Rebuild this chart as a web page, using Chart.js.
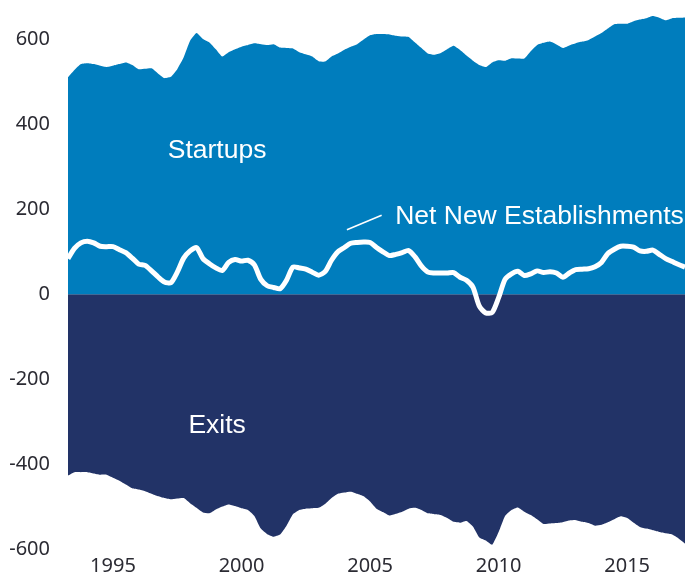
<!DOCTYPE html>
<html>
<head>
<meta charset="utf-8">
<script src="https://cdn.jsdelivr.net/npm/chart.js@4/dist/chart.umd.min.js"></script>
<style>
  html, body { margin: 0; padding: 0; background: #fff; }
  #wrap { width: 685px; height: 583px; }
</style>
</head>
<body>
<div id="wrap"><canvas id="chart" width="685" height="583"></canvas></div>
<script>
// quarterly, 1993 Q2 .. 2017 Q2 (thousands of establishments)
const firstYear = 1993;
const firstQuarter = 2;
const count = 97;

const quarters = [];
for (let i = 0; i < count; i++) {
	const q = firstQuarter - 1 + i;
	quarters.push(`${firstYear + Math.floor(q / 4)} Q${(q % 4) + 1}`);
}

const startups = [
	511, 528, 542, 544, 542, 538, 535, 538, 542, 546,
	540, 530, 531, 532, 520, 509, 512, 530, 558, 597,
	615, 601, 593, 577, 560, 570, 577, 583, 587, 591,
	589, 587, 589, 581, 580, 579, 570, 565, 560, 549,
	548, 560, 567, 576, 583, 589, 600, 610, 613, 613,
	612, 609, 607, 606, 593, 580, 567, 564, 568, 577,
	585, 575, 562, 550, 540, 535, 546, 551, 550, 556,
	555, 555, 572, 587, 592, 595, 588, 580, 586, 591,
	595, 599, 607, 615, 626, 636, 637, 637, 643, 647,
	650, 655, 651, 645, 650, 651, 652,
];

const exits = [
	-427, -419, -419, -419, -422, -425, -425, -432, -439, -448,
	-457, -460, -464, -470, -476, -480, -483, -481, -480, -492,
	-503, -514, -516, -507, -500, -495, -499, -504, -508, -522,
	-552, -565, -571, -566, -545, -518, -508, -505, -504, -503,
	-494, -480, -470, -467, -465, -470, -476, -488, -505, -513,
	-521, -517, -512, -505, -503, -508, -516, -518, -520, -527,
	-536, -538, -534, -547, -573, -580, -590, -560, -522, -508,
	-502, -512, -520, -530, -541, -540, -539, -537, -533, -532,
	-536, -539, -545, -543, -537, -530, -523, -527, -538, -548,
	-552, -556, -560, -563, -566, -575, -587,
];

const netNew = [
	84, 108, 121, 125, 121, 113, 112, 112, 105, 98,
	85, 71, 68, 55, 41, 29, 27, 52, 85, 102,
	110, 84, 72, 62, 56, 75, 82, 78, 80, 69,
	35, 20, 16, 13, 33, 64, 62, 59, 52, 45,
	53, 80, 100, 110, 120, 122, 123, 122, 110, 100,
	91, 94, 98, 103, 88, 66, 52, 50, 50, 50,
	51, 40, 33, 17, -28, -44, -43, -8, 35, 48,
	54, 44, 48, 55, 51, 53, 50, 40, 50, 58,
	59, 60, 65, 75, 96, 106, 113, 113, 111, 102,
	101, 104, 94, 84, 77, 70, 64,
];

const yTicks = [-600, -400, -200, 0, 200, 400, 600];
const xTickYears = ["1995", "2000", "2005", "2010", "2015"];

const blue = "#007dbd";
const navy = "#223367";
const tickFont = { family: "'Noto Sans', sans-serif", size: 20 };
const labelFont = "26.5px 'Liberation Sans', Arial, sans-serif";

// text labels placed in data coordinates (x = quarter index)
const areaLabels = [
	{ text: "Startups", x: 23.2, y: 321, align: "center" },
	{ text: "Exits", x: 23.2, y: -326, align: "center" },
	{ text: "Net New Establishments", x: 50.9, y: 166, align: "left" },
];
const leader = { x1: 43.4, y1: 152, x2: 48.8, y2: 186 };

const labelPlugin = {
	id: "areaLabels",
	afterDatasetsDraw(chart) {
		const { ctx, scales } = chart;
		ctx.save();
		ctx.fillStyle = "#fff";
		ctx.font = labelFont;
		ctx.textBaseline = "alphabetic";
		areaLabels.forEach((l) => {
			ctx.textAlign = l.align;
			ctx.fillText(l.text, scales.x.getPixelForValue(l.x), scales.y.getPixelForValue(l.y));
		});
		ctx.strokeStyle = "#fff";
		ctx.lineWidth = 1.5;
		ctx.beginPath();
		ctx.moveTo(scales.x.getPixelForValue(leader.x1), scales.y.getPixelForValue(leader.y1));
		ctx.lineTo(scales.x.getPixelForValue(leader.x2), scales.y.getPixelForValue(leader.y2));
		ctx.stroke();
		ctx.restore();
	},
};

const data = {
	labels: quarters,
	datasets: [
		{
			label: "Net New Establishments",
			data: netNew,
			borderColor: "#fff",
			borderWidth: 5,
			fill: false,
			tension: 0.25,
			borderJoinStyle: "round",
		},
		{
			label: "Startups",
			data: startups,
			backgroundColor: blue,
			borderColor: blue,
			borderWidth: 0,
			fill: "origin",
			tension: 0.15,
		},
		{
			label: "Exits",
			data: exits,
			backgroundColor: navy,
			borderColor: navy,
			borderWidth: 0,
			fill: "origin",
			tension: 0.15,
		},
	],
};

const options = {
	responsive: false,
	devicePixelRatio: 1,
	animation: false,
	layout: { padding: { top: 14, left: 0, right: 0, bottom: 0 } },
	elements: { point: { radius: 0, hoverRadius: 0 } },
	plugins: {
		legend: { display: false },
		tooltip: { enabled: false },
	},
	scales: {
		x: {
			type: "category",
			offset: false,
			grid: { display: false, drawTicks: false },
			border: { display: false },
			ticks: {
				autoSkip: false,
				maxRotation: 0,
				padding: 5,
				color: "#2b2b33",
				font: tickFont,
				callback(value) {
					const label = this.getLabelForValue(value);
					const [year, q] = label.split(" ");
					return q === "Q1" && xTickYears.includes(year) ? year : "";
				},
			},
			afterFit(scale) {
				scale.height = 34;
				scale.paddingLeft = 0;
				scale.paddingRight = 0;
			},
		},
		y: {
			min: -600,
			max: 660,
			grid: { display: false, drawTicks: false },
			border: { display: false },
			ticks: {
				padding: 18,
				color: "#2b2b33",
				font: tickFont,
			},
			afterBuildTicks(scale) {
				scale.ticks = yTicks.map((v) => ({ value: v }));
			},
			afterFit(scale) {
				scale.width = 68;
				scale.paddingTop = 0;
				scale.paddingBottom = 0;
			},
		},
	},
};

new Chart(document.querySelector("#chart"), {
	type: "line",
	data,
	options,
	plugins: [labelPlugin],
});
</script>
</body>
</html>
